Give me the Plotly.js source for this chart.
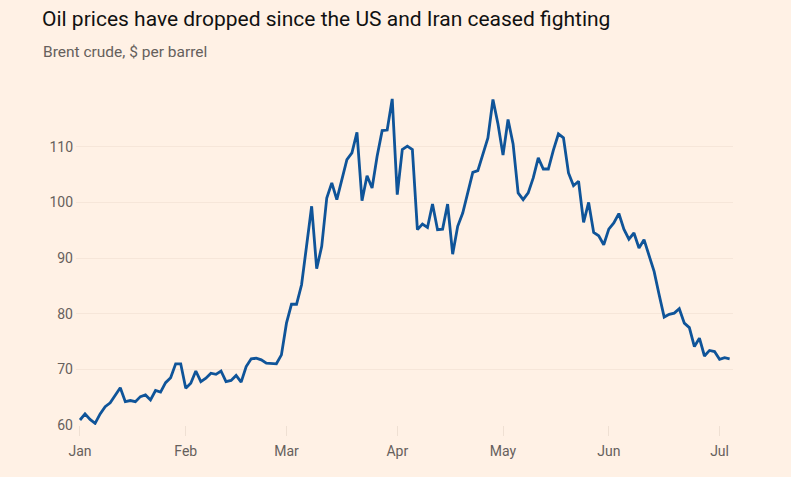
<!DOCTYPE html>
<html>
<head>
<meta charset="utf-8">
<script src="https://cdn.plot.ly/plotly-3.0.1.min.js"></script>
<style>
  html, body { margin: 0; padding: 0; background: #FFF1E5; }
  #chart { width: 791px; height: 477px; }
</style>
</head>
<body>
<div id="chart"></div>
<script>
const titleText = "Oil prices have dropped since the US and Iran ceased fighting";
const subtitleText = "Brent crude, $ per barrel";

const dates = [
  "2026-01-02","2026-01-05","2026-01-06","2026-01-07","2026-01-08","2026-01-09",
  "2026-01-12","2026-01-13","2026-01-14","2026-01-15","2026-01-16",
  "2026-01-19","2026-01-20","2026-01-21","2026-01-22","2026-01-23",
  "2026-01-26","2026-01-27","2026-01-28","2026-01-29","2026-01-30",
  "2026-02-02","2026-02-03","2026-02-04","2026-02-05","2026-02-06",
  "2026-02-09","2026-02-10","2026-02-11","2026-02-12","2026-02-13",
  "2026-02-16","2026-02-17","2026-02-18","2026-02-19","2026-02-20",
  "2026-02-23","2026-02-24","2026-02-25","2026-02-26","2026-02-27",
  "2026-03-02","2026-03-03","2026-03-04","2026-03-05","2026-03-06",
  "2026-03-09","2026-03-10","2026-03-11","2026-03-12","2026-03-13",
  "2026-03-16","2026-03-17","2026-03-18","2026-03-19","2026-03-20",
  "2026-03-23","2026-03-24","2026-03-25","2026-03-26","2026-03-27",
  "2026-03-30","2026-03-31",
  "2026-04-01","2026-04-02",
  "2026-04-06","2026-04-07","2026-04-08","2026-04-09","2026-04-10",
  "2026-04-13","2026-04-14","2026-04-15","2026-04-16","2026-04-17",
  "2026-04-20","2026-04-21","2026-04-22","2026-04-23","2026-04-24",
  "2026-04-27","2026-04-28","2026-04-29","2026-04-30",
  "2026-05-01",
  "2026-05-04","2026-05-05","2026-05-06","2026-05-07","2026-05-08",
  "2026-05-11","2026-05-12","2026-05-13","2026-05-14","2026-05-15",
  "2026-05-18","2026-05-19","2026-05-20","2026-05-21","2026-05-22",
  "2026-05-25","2026-05-26","2026-05-27","2026-05-28","2026-05-29",
  "2026-06-01","2026-06-02","2026-06-03","2026-06-04","2026-06-05",
  "2026-06-08","2026-06-09","2026-06-10","2026-06-11","2026-06-12",
  "2026-06-15","2026-06-16","2026-06-17","2026-06-18","2026-06-19",
  "2026-06-22","2026-06-23","2026-06-24","2026-06-25","2026-06-26",
  "2026-06-29","2026-06-30",
  "2026-07-01","2026-07-02","2026-07-03"
];

const brent = [
  60.9, 62.0, 61.0, 60.3, 62.0, 63.3,
  64.0, 65.4, 66.7, 64.2, 64.4,
  64.2, 65.1, 65.4, 64.5, 66.2,
  65.9, 67.6, 68.5, 71.0, 71.0,
  66.6, 67.5, 69.7, 67.8, 68.4,
  69.3, 69.1, 69.7, 67.8, 68.0,
  68.9, 67.7, 70.5, 71.9, 72.0,
  71.7, 71.1, 71.1, 71.0, 72.6,
  78.3, 81.7, 81.7, 85.2, 92.7,
  99.3, 88.1, 92.1, 100.8, 103.5,
  100.5, 104.2, 107.7, 108.9, 112.6,
  100.3, 104.8, 102.6, 108.3, 112.9,
  113.0, 118.6,
  101.4, 109.5,
  110.1, 109.5, 95.1, 96.1, 95.5,
  99.7, 95.1, 95.2, 99.7, 90.7,
  95.7, 98.1, 101.7, 105.4, 105.7,
  108.6, 111.6, 118.5, 114.1,
  108.5,
  114.9, 110.5, 101.7, 100.5, 101.7,
  104.4, 108.0, 106.0, 106.0, 109.4,
  112.3, 111.6, 105.3, 103.0, 103.8,
  96.4, 100.0, 94.6, 94.0, 92.4,
  95.2, 96.3, 98.0, 95.2, 93.4,
  94.5, 91.8, 93.3, 90.6, 87.6,
  83.4, 79.4, 79.9, 80.1, 80.9,
  78.3, 77.5, 74.1, 75.6, 72.4,
  73.4, 73.2,
  71.8, 72.1, 71.9
];

const monthTickDates = ["2026-01-02","2026-02-02","2026-03-02","2026-04-01","2026-05-01","2026-06-01","2026-07-01"];
const monthTickLabels = ["Jan","Feb","Mar","Apr","May","Jun","Jul"];
const yTicks = [60, 70, 80, 90, 100, 110];
const holidays = ["2026-04-03"];

const W = 791, H = 477;
const mL = 76, mR = 58, mT = 90, mB = 52;
const plotW = W - mL - mR, plotH = H - mT - mB;

const trace = {
  x: dates,
  y: brent,
  type: "scatter",
  mode: "lines",
  line: { color: "#0f5499", width: 2.8, shape: "linear" },
  hoverinfo: "skip"
};

const layout = {
  width: W,
  height: H,
  paper_bgcolor: "#FFF1E5",
  plot_bgcolor: "#FFF1E5",
  margin: { l: mL, r: mR, t: mT, b: mB, pad: 0 },
  showlegend: false,
  font: { family: "Roboto, 'Noto Sans', sans-serif", color: "#66605C", size: 14 },
  title: {
    text: titleText,
    font: { family: "Roboto, sans-serif", size: 21, color: "#111111" },
    xref: "container", yref: "container",
    x: 42 / W, xanchor: "left",
    y: 1 - 19 / H, yanchor: "middle"
  },
  xaxis: {
    type: "date",
    range: ["2026-01-01 05:00", "2026-07-03 16:00"],
    rangebreaks: [
      { bounds: ["sat", "mon"] },
      { values: holidays }
    ],
    tickmode: "array",
    tickvals: monthTickDates,
    ticktext: monthTickLabels,
    ticks: "outside",
    ticklen: 10,
    tickwidth: 1,
    tickcolor: "#efe0d3",
    ticklabelstandoff: 3,
    showgrid: false,
    zeroline: false,
    showline: false,
    tickfont: { size: 14, color: "#66605C" }
  },
  yaxis: {
    range: [60, 120.2],
    tickmode: "array",
    tickvals: yTicks,
    ticks: "",
    showgrid: true,
    gridcolor: "#f6e6d9",
    gridwidth: 1,
    zeroline: false,
    showline: false,
    ticklabelstandoff: 2,
    tickfont: { size: 14, color: "#66605C" }
  },
  annotations: [
    {
      text: subtitleText,
      xref: "paper", yref: "paper",
      x: (42 - mL) / plotW, xanchor: "left",
      y: (H - mB - 52) / plotH, yanchor: "middle",
      showarrow: false,
      borderpad: 0,
      font: { family: "Roboto, sans-serif", size: 15.5, color: "#66605C" }
    }
  ]
};

Plotly.newPlot("chart", [trace], layout, { displayModeBar: false, staticPlot: true });
</script>
</body>
</html>
